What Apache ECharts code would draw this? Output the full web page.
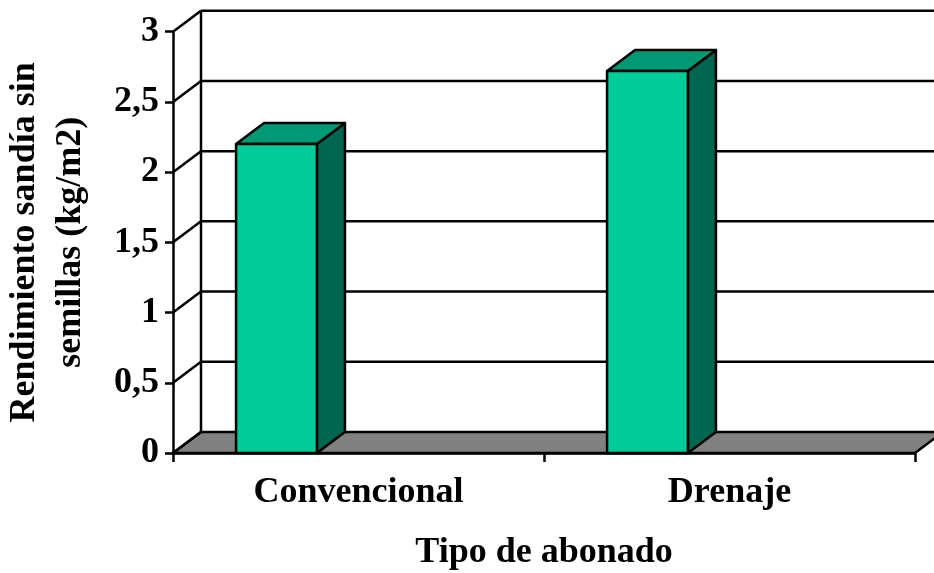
<!DOCTYPE html>
<html>
<head>
<meta charset="utf-8">
<script src="https://cdn.jsdelivr.net/npm/echarts@6/dist/echarts.min.js"></script>
<style>html,body{margin:0;padding:0;background:#fff}#c{width:934px;height:573px}</style>
</head>
<body>
<div id="c"></div>
<script>
var categories = ['Convencional', 'Drenaje'];
var yieldValues = [2.2, 2.72];
var yTicks = [0, 0.5, 1, 1.5, 2, 2.5, 3];
var yTickLabels = ['0', '0,5', '1', '1,5', '2', '2,5', '3'];
var xTitle = 'Tipo de abonado';
var yTitle = 'Rendimiento sandía sin\nsemillas (kg/m2)';

var DX = 28, DY = -21; // depth offset of the 3D projection
var LW = 2.5;
var FONT = 'Liberation Serif';

var chart = echarts.init(document.getElementById('c'), null, {renderer: 'canvas'});

function bounds(api) {
  var c0 = api.coord([0, 0]);
  var band = api.size([1, 0])[0];
  var cN = api.coord([categories.length - 1, 0]);
  return {L: c0[0] - band / 2, R: cN[0] + band / 2, y0: c0[1], band: band};
}

var option = {
  animation: false,
  grid: {left: 173, right: 19, top: 31.7, bottom: 120, containLabel: false, outerBoundsMode: 'none'},
  xAxis: {
    type: 'category',
    data: categories,
    boundaryGap: true,
    axisLine: {show: true, lineStyle: {color: '#000', width: LW}},
    axisTick: {show: true, inside: false, length: 9, alignWithLabel: false, lineStyle: {color: '#000', width: LW}},
    axisLabel: {margin: 22, color: '#000', fontFamily: FONT, fontWeight: 'bold', fontSize: 36},
    splitLine: {show: false},
    name: xTitle,
    nameLocation: 'middle',
    nameGap: 82,
    nameTextStyle: {color: '#000', fontFamily: FONT, fontWeight: 'bold', fontSize: 36}
  },
  yAxis: {
    type: 'value',
    min: 0, max: 3, interval: 0.5,
    axisLine: {show: true, lineStyle: {color: '#000', width: LW}},
    axisTick: {show: true, inside: false, length: 8, lineStyle: {color: '#000', width: LW}},
    axisLabel: {
      margin: 14, color: '#000', fontFamily: FONT, fontWeight: 'bold', fontSize: 36,
      formatter: function (v) { var i = yTicks.indexOf(v); return i >= 0 ? yTickLabels[i] : ''; }
    },
    splitLine: {show: false},
    name: yTitle,
    nameLocation: 'middle',
    nameRotate: 90,
    nameGap: 79,
    nameTextStyle: {color: '#000', fontFamily: FONT, fontWeight: 'bold', fontSize: 36, lineHeight: 46, align: 'center'}
  },
  series: [
    {
      type: 'custom',
      z: 1,
      clip: false,
      data: [[0, 0]],
      renderItem: function (params, api) {
        var b = bounds(api);
        var top = api.coord([0, yTicks[yTicks.length - 1]])[1];
        return {
          type: 'group',
          children: [
            {type: 'polygon', shape: {points: [[b.L, b.y0], [b.R, b.y0], [b.R + DX, b.y0 + DY], [b.L + DX, b.y0 + DY]]},
             style: {fill: '#808080', stroke: '#000', lineWidth: LW}},
            {type: 'line', shape: {x1: b.L + DX, y1: b.y0 + DY, x2: b.L + DX, y2: top + DY},
             style: {stroke: '#000', lineWidth: LW}}
          ]
        };
      }
    },
    {
      type: 'custom',
      z: 2,
      clip: false,
      data: yTicks.map(function (v) { return [0, v]; }),
      renderItem: function (params, api) {
        var b = bounds(api);
        var y = api.coord([0, api.value(1)])[1];
        var children = [
          {type: 'line', shape: {x1: b.L, y1: y, x2: b.L + DX, y2: y + DY}, style: {stroke: '#000', lineWidth: LW}}
        ];
        if (api.value(1) > 0) {
          children.push({type: 'line', shape: {x1: b.L + DX, y1: y + DY, x2: b.R + DX, y2: y + DY}, style: {stroke: '#000', lineWidth: LW}});
        }
        return {type: 'group', children: children};
      }
    },
    {
      type: 'custom',
      z: 5,
      clip: false,
      data: yieldValues.map(function (v, i) { return [i, v]; }),
      renderItem: function (params, api) {
        var b = bounds(api);
        var c = api.coord([api.value(0), api.value(1)]);
        var base = api.coord([api.value(0), 0]);
        var x0 = c[0] - b.band * 0.5 + b.band * 0.17;
        var x1 = x0 + b.band * 0.218;
        var yt = c[1], yb = base[1];
        var st = {stroke: '#000', lineWidth: LW, lineJoin: 'round'};
        return {
          type: 'group',
          children: [
            {type: 'polygon', shape: {points: [[x1, yb], [x1 + DX, yb + DY], [x1 + DX, yt + DY], [x1, yt]]},
             style: Object.assign({fill: '#006650'}, st)},
            {type: 'polygon', shape: {points: [[x0, yt], [x1, yt], [x1 + DX, yt + DY], [x0 + DX, yt + DY]]},
             style: Object.assign({fill: '#009973'}, st)},
            {type: 'rect', shape: {x: x0, y: yt, width: x1 - x0, height: yb - yt},
             style: Object.assign({fill: '#00CC99'}, st)}
          ]
        };
      }
    }
  ]
};
chart.setOption(option);
</script>
</body>
</html>
